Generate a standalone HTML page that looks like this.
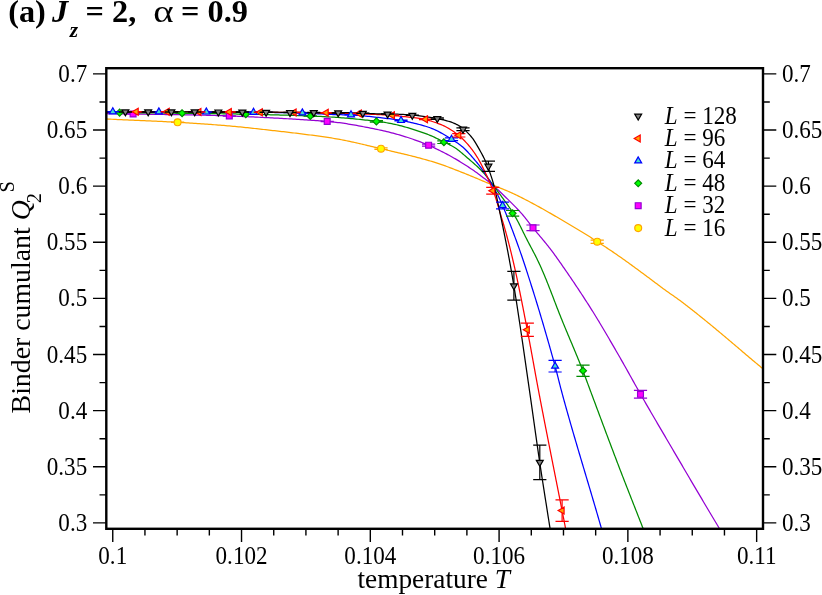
<!DOCTYPE html>
<html><head><meta charset="utf-8"><title>Binder cumulant</title>
<style>html,body{margin:0;padding:0;background:#fff}svg{display:block;will-change:transform}text{font-family:"Liberation Serif",serif;fill:#000}</style></head><body>
<svg width="822" height="595" viewBox="0 0 822 595">
<rect width="822" height="595" fill="#fff"/>
<defs><clipPath id="clip"><rect x="106.3" y="68.2" width="656.7" height="460.6"/></clipPath></defs>
<g clip-path="url(#clip)">
<path d="M100.64 118.63 L102.53 118.74 L104.43 118.84 L106.33 118.95 L108.23 119.05 L110.13 119.15 L112.03 119.25 L113.93 119.34 L115.84 119.43 L117.75 119.53 L119.66 119.61 L121.57 119.7 L123.48 119.79 L125.4 119.88 L127.31 119.96 L129.23 120.04 L131.15 120.13 L133.07 120.21 L134.98 120.29 L136.9 120.37 L138.82 120.45 L140.74 120.53 L142.66 120.62 L144.58 120.7 L146.5 120.78 L148.41 120.86 L150.33 120.95 L152.24 121.03 L154.16 121.12 L156.07 121.2 L157.98 121.29 L159.89 121.38 L161.8 121.47 L163.71 121.57 L165.61 121.66 L167.52 121.76 L169.42 121.86 L171.32 121.96 L173.21 122.06 L175.11 122.17 L177 122.28 L178.89 122.39 L180.78 122.5 L182.66 122.61 L184.55 122.72 L186.43 122.84 L188.32 122.96 L190.2 123.07 L192.08 123.19 L193.96 123.31 L195.84 123.44 L197.72 123.56 L199.59 123.68 L201.46 123.81 L203.34 123.94 L205.21 124.07 L207.07 124.2 L208.94 124.33 L210.81 124.47 L212.67 124.61 L214.53 124.75 L216.38 124.89 L218.24 125.04 L220.09 125.18 L221.94 125.33 L223.79 125.49 L225.63 125.64 L227.48 125.8 L229.31 125.96 L231.15 126.12 L232.98 126.29 L234.81 126.46 L236.64 126.63 L238.46 126.81 L240.29 126.99 L242.1 127.17 L243.92 127.35 L245.73 127.54 L247.54 127.73 L249.35 127.92 L251.16 128.11 L252.97 128.31 L254.77 128.5 L256.57 128.7 L258.38 128.9 L260.18 129.1 L261.98 129.3 L263.77 129.5 L265.57 129.7 L267.37 129.9 L269.17 130.11 L270.96 130.31 L272.76 130.51 L274.56 130.72 L276.35 130.92 L278.15 131.13 L279.94 131.33 L281.74 131.54 L283.53 131.74 L285.32 131.95 L287.12 132.16 L288.91 132.37 L290.7 132.58 L292.49 132.79 L294.27 133 L296.06 133.22 L297.84 133.43 L299.63 133.65 L301.41 133.87 L303.18 134.09 L304.96 134.31 L306.74 134.54 L308.51 134.77 L310.28 135 L312.04 135.23 L313.81 135.47 L315.57 135.7 L317.33 135.94 L319.09 136.19 L320.84 136.43 L322.59 136.68 L324.34 136.93 L326.09 137.19 L327.83 137.45 L329.57 137.71 L331.3 137.98 L333.02 138.25 L334.74 138.54 L336.45 138.83 L338.15 139.13 L339.84 139.43 L341.53 139.75 L343.2 140.07 L344.87 140.4 L346.54 140.74 L348.19 141.08 L349.84 141.43 L351.49 141.78 L353.13 142.14 L354.77 142.51 L356.4 142.88 L358.03 143.25 L359.65 143.62 L361.28 144 L362.9 144.38 L364.51 144.76 L366.13 145.14 L367.75 145.53 L369.36 145.91 L370.97 146.3 L372.59 146.69 L374.2 147.07 L375.82 147.46 L377.43 147.84 L379.05 148.23 L380.66 148.61 L382.28 148.99 L383.9 149.37 L385.52 149.75 L387.14 150.13 L388.76 150.51 L390.38 150.89 L392 151.27 L393.62 151.65 L395.24 152.03 L396.86 152.41 L398.48 152.79 L400.1 153.17 L401.72 153.56 L403.33 153.94 L404.94 154.33 L406.55 154.72 L408.16 155.11 L409.76 155.51 L411.37 155.91 L412.96 156.31 L414.56 156.72 L416.15 157.12 L417.74 157.54 L419.32 157.95 L420.9 158.38 L422.47 158.8 L424.04 159.23 L425.61 159.67 L427.17 160.11 L428.72 160.56 L430.27 161.01 L431.81 161.47 L433.34 161.93 L434.87 162.41 L436.39 162.89 L437.9 163.38 L439.4 163.87 L440.89 164.38 L442.38 164.9 L443.86 165.42 L445.33 165.95 L446.79 166.48 L448.25 167.03 L449.7 167.57 L451.15 168.12 L452.6 168.68 L454.04 169.24 L455.48 169.8 L456.92 170.36 L458.35 170.92 L459.78 171.49 L461.21 172.06 L462.64 172.63 L464.07 173.2 L465.5 173.78 L466.92 174.36 L468.34 174.94 L469.76 175.52 L471.18 176.1 L472.59 176.68 L474.01 177.27 L475.42 177.85 L476.84 178.44 L478.25 179.03 L479.66 179.62 L481.07 180.21 L482.48 180.8 L483.89 181.38 L485.3 181.97 L486.72 182.56 L488.13 183.14 L489.55 183.72 L490.97 184.3 L492.39 184.88 L493.82 185.46 L495.25 186.03 L496.68 186.6 L498.11 187.17 L499.53 187.74 L500.96 188.31 L502.39 188.89 L503.81 189.47 L505.22 190.05 L506.63 190.64 L508.03 191.24 L509.43 191.85 L510.81 192.46 L512.19 193.08 L513.56 193.72 L514.92 194.36 L516.27 195 L517.62 195.66 L518.96 196.32 L520.29 196.98 L521.62 197.66 L522.94 198.33 L524.26 199.01 L525.58 199.69 L526.9 200.38 L528.21 201.07 L529.52 201.76 L530.82 202.45 L532.12 203.15 L533.42 203.85 L534.72 204.55 L536.02 205.26 L537.31 205.96 L538.6 206.67 L539.89 207.38 L541.18 208.09 L542.47 208.81 L543.75 209.52 L545.03 210.24 L546.31 210.97 L547.58 211.69 L548.86 212.42 L550.13 213.15 L551.39 213.88 L552.66 214.62 L553.92 215.35 L555.18 216.09 L556.44 216.83 L557.7 217.57 L558.96 218.31 L560.22 219.06 L561.48 219.8 L562.74 220.54 L563.99 221.28 L565.25 222.02 L566.51 222.76 L567.77 223.51 L569.03 224.25 L570.28 224.99 L571.54 225.74 L572.8 226.48 L574.05 227.22 L575.31 227.97 L576.56 228.71 L577.81 229.46 L579.07 230.21 L580.31 230.96 L581.56 231.71 L582.8 232.47 L584.04 233.23 L585.28 233.99 L586.51 234.76 L587.74 235.53 L588.97 236.31 L590.19 237.08 L591.41 237.86 L592.63 238.65 L593.85 239.43 L595.06 240.22 L596.27 241 L597.49 241.79 L598.7 242.58 L599.91 243.37 L601.12 244.16 L602.33 244.95 L603.54 245.74 L604.74 246.53 L605.95 247.32 L607.16 248.12 L608.36 248.92 L609.56 249.72 L610.76 250.52 L611.95 251.32 L613.14 252.13 L614.33 252.94 L615.52 253.75 L616.71 254.57 L617.89 255.39 L619.06 256.21 L620.24 257.03 L621.41 257.86 L622.59 258.69 L623.76 259.52 L624.92 260.35 L626.09 261.19 L627.25 262.02 L628.42 262.86 L629.58 263.7 L630.74 264.54 L631.9 265.38 L633.06 266.22 L634.21 267.06 L635.37 267.91 L636.52 268.75 L637.67 269.6 L638.83 270.45 L639.98 271.3 L641.13 272.15 L642.27 273 L643.42 273.85 L644.57 274.71 L645.72 275.56 L646.86 276.41 L648.01 277.27 L649.15 278.12 L650.3 278.98 L651.44 279.84 L652.58 280.69 L653.73 281.55 L654.87 282.4 L656.01 283.26 L657.16 284.12 L658.3 284.97 L659.45 285.83 L660.59 286.68 L661.74 287.53 L662.9 288.38 L664.05 289.22 L665.21 290.06 L666.37 290.9 L667.54 291.73 L668.71 292.56 L669.89 293.39 L671.06 294.21 L672.24 295.04 L673.42 295.86 L674.59 296.68 L675.76 297.51 L676.93 298.34 L678.09 299.18 L679.25 300.02 L680.41 300.87 L681.55 301.72 L682.7 302.58 L683.83 303.44 L684.97 304.31 L686.1 305.18 L687.23 306.05 L688.35 306.93 L689.47 307.8 L690.59 308.68 L691.71 309.56 L692.83 310.45 L693.95 311.33 L695.06 312.21 L696.18 313.1 L697.29 313.98 L698.4 314.87 L699.51 315.76 L700.62 316.65 L701.73 317.54 L702.84 318.43 L703.95 319.33 L705.05 320.22 L706.15 321.12 L707.26 322.02 L708.36 322.92 L709.46 323.82 L710.55 324.72 L711.65 325.62 L712.74 326.53 L713.84 327.44 L714.93 328.34 L716.02 329.25 L717.11 330.16 L718.2 331.07 L719.29 331.98 L720.38 332.89 L721.47 333.81 L722.56 334.72 L723.64 335.63 L724.73 336.54 L725.82 337.46 L726.9 338.37 L727.99 339.29 L729.07 340.2 L730.16 341.12 L731.24 342.04 L732.32 342.95 L733.41 343.87 L734.49 344.79 L735.57 345.71 L736.65 346.62 L737.73 347.54 L738.81 348.46 L739.89 349.39 L740.97 350.31 L742.05 351.23 L743.13 352.15 L744.2 353.07 L745.28 353.99 L746.36 354.91 L747.44 355.83 L748.53 356.75 L749.61 357.67 L750.69 358.58 L751.78 359.49 L752.87 360.41 L753.96 361.32 L755.05 362.22 L756.14 363.13 L757.24 364.04 L758.33 364.95 L759.42 365.85 L760.51 366.76 L761.61 367.67 L762.7 368.58 L763.79 369.49 L764.88 370.4 L765.97 371.31 L767.05 372.22 L768.14 373.13 L769.23 374.05 L770.31 374.96 L771.4 375.87" fill="none" stroke="#ffa500" stroke-width="1.25" stroke-linejoin="round"/>
<path d="M100.9 113.42 L102.87 113.45 L104.83 113.49 L106.8 113.52 L108.76 113.56 L110.73 113.59 L112.69 113.63 L114.65 113.66 L116.62 113.7 L118.58 113.74 L120.55 113.77 L122.51 113.81 L124.48 113.84 L126.44 113.88 L128.4 113.91 L130.37 113.95 L132.33 113.99 L134.3 114.02 L136.26 114.06 L138.23 114.09 L140.19 114.13 L142.16 114.16 L144.13 114.19 L146.1 114.22 L148.06 114.26 L150.03 114.29 L152 114.32 L153.97 114.35 L155.94 114.38 L157.91 114.41 L159.88 114.44 L161.85 114.47 L163.82 114.5 L165.79 114.53 L167.76 114.56 L169.73 114.59 L171.7 114.62 L173.67 114.65 L175.64 114.68 L177.61 114.71 L179.58 114.74 L181.54 114.78 L183.51 114.81 L185.48 114.84 L187.44 114.88 L189.41 114.91 L191.37 114.95 L193.33 114.99 L195.3 115.02 L197.26 115.06 L199.22 115.1 L201.17 115.14 L203.13 115.19 L205.09 115.23 L207.04 115.28 L208.99 115.32 L210.95 115.37 L212.9 115.42 L214.84 115.48 L216.79 115.53 L218.73 115.59 L220.68 115.64 L222.62 115.7 L224.55 115.77 L226.49 115.83 L228.42 115.9 L230.35 115.96 L232.28 116.04 L234.21 116.11 L236.13 116.19 L238.06 116.26 L239.97 116.34 L241.89 116.43 L243.81 116.51 L245.72 116.6 L247.63 116.69 L249.54 116.78 L251.45 116.87 L253.35 116.97 L255.26 117.06 L257.16 117.16 L259.06 117.25 L260.97 117.35 L262.87 117.45 L264.77 117.55 L266.67 117.65 L268.57 117.74 L270.48 117.84 L272.38 117.94 L274.28 118.04 L276.18 118.14 L278.08 118.24 L279.98 118.34 L281.88 118.44 L283.77 118.55 L285.67 118.65 L287.57 118.75 L289.46 118.86 L291.35 118.97 L293.25 119.07 L295.14 119.18 L297.02 119.3 L298.91 119.41 L300.79 119.52 L302.68 119.64 L304.56 119.76 L306.43 119.88 L308.31 120.01 L310.18 120.14 L312.05 120.27 L313.92 120.4 L315.78 120.53 L317.65 120.67 L319.5 120.81 L321.36 120.96 L323.21 121.11 L325.06 121.26 L326.9 121.42 L328.74 121.58 L330.57 121.75 L332.39 121.93 L334.2 122.12 L336.01 122.31 L337.8 122.52 L339.58 122.74 L341.35 122.97 L343.1 123.21 L344.85 123.47 L346.59 123.73 L348.31 124.01 L350.03 124.29 L351.74 124.58 L353.45 124.87 L355.15 125.17 L356.84 125.48 L358.53 125.79 L360.21 126.11 L361.89 126.43 L363.57 126.75 L365.25 127.07 L366.92 127.4 L368.59 127.73 L370.26 128.06 L371.93 128.39 L373.59 128.72 L375.26 129.06 L376.92 129.4 L378.57 129.75 L380.22 130.1 L381.86 130.45 L383.5 130.82 L385.13 131.19 L386.75 131.57 L388.36 131.96 L389.96 132.36 L391.55 132.77 L393.13 133.19 L394.71 133.61 L396.28 134.04 L397.84 134.48 L399.39 134.93 L400.94 135.38 L402.47 135.85 L404.01 136.31 L405.53 136.79 L407.05 137.27 L408.56 137.76 L410.06 138.26 L411.55 138.76 L413.04 139.28 L414.52 139.79 L416 140.32 L417.47 140.85 L418.93 141.39 L420.38 141.94 L421.82 142.5 L423.25 143.06 L424.68 143.64 L426.1 144.22 L427.5 144.82 L428.9 145.42 L430.29 146.03 L431.67 146.65 L433.04 147.28 L434.4 147.92 L435.76 148.56 L437.11 149.21 L438.45 149.87 L439.79 150.53 L441.12 151.2 L442.45 151.87 L443.77 152.55 L445.09 153.23 L446.4 153.92 L447.71 154.61 L449.01 155.31 L450.31 156.01 L451.6 156.72 L452.88 157.44 L454.15 158.17 L455.42 158.9 L456.68 159.64 L457.93 160.39 L459.17 161.15 L460.41 161.91 L461.64 162.68 L462.87 163.45 L464.09 164.22 L465.32 165 L466.54 165.78 L467.75 166.57 L468.96 167.36 L470.17 168.15 L471.37 168.95 L472.57 169.75 L473.75 170.57 L474.93 171.39 L476.09 172.23 L477.25 173.07 L478.39 173.93 L479.54 174.78 L480.67 175.65 L481.81 176.51 L482.94 177.38 L484.07 178.25 L485.2 179.12 L486.33 179.99 L487.46 180.86 L488.58 181.74 L489.7 182.62 L490.81 183.51 L491.91 184.41 L492.99 185.33 L494.06 186.26 L495.12 187.19 L496.17 188.14 L497.22 189.1 L498.25 190.07 L499.28 191.04 L500.3 192.02 L501.32 193 L502.34 193.98 L503.36 194.96 L504.37 195.95 L505.38 196.94 L506.39 197.93 L507.39 198.92 L508.4 199.92 L509.4 200.92 L510.41 201.91 L511.41 202.91 L512.41 203.91 L513.41 204.91 L514.4 205.92 L515.4 206.92 L516.39 207.93 L517.37 208.95 L518.35 209.97 L519.31 211.01 L520.27 212.05 L521.21 213.11 L522.14 214.18 L523.06 215.26 L523.96 216.36 L524.86 217.46 L525.75 218.57 L526.63 219.69 L527.5 220.82 L528.38 221.94 L529.25 223.07 L530.13 224.19 L531.01 225.31 L531.89 226.43 L532.78 227.54 L533.67 228.65 L534.57 229.75 L535.48 230.84 L536.38 231.94 L537.29 233.03 L538.2 234.12 L539.11 235.21 L540.03 236.29 L540.94 237.38 L541.85 238.47 L542.76 239.56 L543.67 240.65 L544.57 241.75 L545.48 242.84 L546.37 243.94 L547.27 245.05 L548.16 246.16 L549.04 247.28 L549.92 248.4 L550.79 249.53 L551.65 250.67 L552.51 251.81 L553.36 252.96 L554.2 254.12 L555.04 255.28 L555.87 256.45 L556.71 257.61 L557.53 258.78 L558.36 259.96 L559.19 261.13 L560.01 262.31 L560.84 263.48 L561.66 264.66 L562.48 265.84 L563.3 267.02 L564.12 268.2 L564.94 269.38 L565.76 270.56 L566.57 271.75 L567.39 272.93 L568.2 274.12 L569.01 275.31 L569.82 276.5 L570.63 277.69 L571.44 278.88 L572.25 280.07 L573.05 281.27 L573.86 282.46 L574.66 283.66 L575.46 284.85 L576.27 286.05 L577.07 287.25 L577.86 288.46 L578.66 289.66 L579.46 290.86 L580.25 292.07 L581.05 293.27 L581.84 294.48 L582.63 295.69 L583.42 296.9 L584.21 298.11 L584.99 299.33 L585.78 300.54 L586.56 301.76 L587.35 302.97 L588.13 304.19 L588.91 305.41 L589.69 306.63 L590.46 307.86 L591.24 309.08 L592.01 310.31 L592.78 311.54 L593.55 312.77 L594.31 314.01 L595.08 315.24 L595.84 316.48 L596.6 317.72 L597.36 318.96 L598.11 320.21 L598.87 321.45 L599.62 322.7 L600.37 323.95 L601.12 325.2 L601.87 326.45 L602.61 327.71 L603.36 328.96 L604.1 330.22 L604.84 331.48 L605.58 332.74 L606.32 334 L607.06 335.26 L607.8 336.52 L608.54 337.78 L609.27 339.05 L610.01 340.31 L610.74 341.58 L611.48 342.84 L612.21 344.11 L612.94 345.38 L613.68 346.64 L614.41 347.91 L615.14 349.18 L615.87 350.45 L616.6 351.72 L617.34 352.98 L618.07 354.25 L618.8 355.52 L619.53 356.79 L620.26 358.06 L620.98 359.33 L621.71 360.61 L622.44 361.88 L623.16 363.16 L623.88 364.44 L624.61 365.71 L625.33 366.99 L626.04 368.27 L626.76 369.56 L627.48 370.84 L628.2 372.12 L628.91 373.41 L629.63 374.69 L630.34 375.98 L631.06 377.26 L631.77 378.55 L632.49 379.83 L633.2 381.12 L633.92 382.4 L634.63 383.69 L635.35 384.97 L636.07 386.25 L636.79 387.53 L637.5 388.81 L638.23 390.09 L638.95 391.37 L639.67 392.65 L640.4 393.92 L641.12 395.2 L641.85 396.47 L642.58 397.74 L643.31 399.01 L644.04 400.28 L644.77 401.55 L645.5 402.82 L646.23 404.09 L646.96 405.36 L647.69 406.63 L648.43 407.89 L649.16 409.16 L649.89 410.42 L650.63 411.69 L651.36 412.96 L652.1 414.22 L652.84 415.48 L653.57 416.75 L654.31 418.01 L655.04 419.27 L655.78 420.54 L656.52 421.8 L657.26 423.06 L657.99 424.32 L658.73 425.59 L659.47 426.85 L660.21 428.11 L660.95 429.37 L661.69 430.63 L662.43 431.89 L663.16 433.16 L663.9 434.42 L664.64 435.68 L665.38 436.94 L666.12 438.2 L666.86 439.46 L667.6 440.72 L668.34 441.98 L669.08 443.24 L669.82 444.5 L670.55 445.76 L671.29 447.03 L672.03 448.29 L672.77 449.55 L673.51 450.81 L674.25 452.07 L674.99 453.33 L675.73 454.59 L676.46 455.85 L677.2 457.12 L677.94 458.38 L678.68 459.64 L679.42 460.9 L680.16 462.16 L680.9 463.42 L681.64 464.68 L682.38 465.94 L683.11 467.2 L683.85 468.47 L684.59 469.73 L685.33 470.99 L686.07 472.25 L686.81 473.51 L687.55 474.77 L688.29 476.03 L689.03 477.29 L689.77 478.55 L690.51 479.81 L691.25 481.07 L691.99 482.33 L692.73 483.59 L693.47 484.85 L694.21 486.1 L694.96 487.36 L695.7 488.62 L696.44 489.88 L697.18 491.14 L697.92 492.4 L698.66 493.66 L699.41 494.91 L700.15 496.17 L700.89 497.43 L701.64 498.68 L702.38 499.94 L703.12 501.2 L703.87 502.45 L704.61 503.71 L705.35 504.96 L706.1 506.22 L706.84 507.48 L707.59 508.73 L708.34 509.98 L709.08 511.24 L709.83 512.49 L710.57 513.75 L711.32 515 L712.07 516.25 L712.82 517.5 L713.56 518.76 L714.31 520.01 L715.06 521.26 L715.81 522.51 L716.56 523.76 L717.31 525.01 L718.06 526.26 L718.81 527.51 L719.57 528.75 L720.32 530 L721.07 531.25 L721.83 532.49 L722.58 533.74 L723.34 534.98" fill="none" stroke="#9400d3" stroke-width="1.25" stroke-linejoin="round"/>
<path d="M101.07 112.32 L103.04 112.35 L105.01 112.38 L106.98 112.41 L108.95 112.44 L110.92 112.47 L112.89 112.5 L114.86 112.53 L116.83 112.56 L118.81 112.58 L120.78 112.61 L122.76 112.63 L124.73 112.66 L126.71 112.68 L128.69 112.7 L130.67 112.72 L132.65 112.74 L134.63 112.76 L136.61 112.78 L138.59 112.8 L140.57 112.82 L142.56 112.83 L144.54 112.85 L146.52 112.87 L148.51 112.88 L150.49 112.9 L152.47 112.92 L154.46 112.93 L156.44 112.95 L158.42 112.97 L160.41 112.98 L162.39 113 L164.37 113.02 L166.35 113.04 L168.33 113.06 L170.31 113.07 L172.29 113.09 L174.27 113.12 L176.25 113.14 L178.23 113.16 L180.21 113.18 L182.18 113.21 L184.16 113.23 L186.13 113.25 L188.11 113.28 L190.09 113.3 L192.06 113.33 L194.03 113.35 L196.01 113.38 L197.98 113.41 L199.96 113.43 L201.93 113.46 L203.9 113.49 L205.87 113.51 L207.85 113.54 L209.82 113.57 L211.79 113.6 L213.76 113.63 L215.73 113.66 L217.7 113.69 L219.67 113.72 L221.64 113.75 L223.61 113.78 L225.57 113.82 L227.54 113.85 L229.5 113.88 L231.47 113.92 L233.43 113.96 L235.4 113.99 L237.36 114.03 L239.32 114.07 L241.28 114.11 L243.24 114.15 L245.2 114.19 L247.16 114.23 L249.11 114.27 L251.07 114.32 L253.03 114.36 L254.99 114.4 L256.94 114.44 L258.9 114.49 L260.86 114.53 L262.81 114.58 L264.77 114.62 L266.72 114.67 L268.67 114.71 L270.63 114.76 L272.58 114.81 L274.53 114.86 L276.48 114.91 L278.43 114.96 L280.38 115.01 L282.32 115.06 L284.27 115.12 L286.21 115.18 L288.16 115.23 L290.1 115.29 L292.04 115.35 L293.97 115.42 L295.91 115.48 L297.84 115.55 L299.77 115.61 L301.7 115.69 L303.63 115.76 L305.56 115.83 L307.48 115.91 L309.4 115.99 L311.32 116.07 L313.24 116.15 L315.16 116.23 L317.07 116.31 L318.99 116.4 L320.9 116.49 L322.8 116.59 L324.71 116.68 L326.61 116.78 L328.5 116.89 L330.39 117 L332.28 117.11 L334.16 117.23 L336.04 117.35 L337.9 117.48 L339.77 117.62 L341.63 117.76 L343.48 117.91 L345.33 118.06 L347.17 118.22 L349.01 118.38 L350.84 118.54 L352.67 118.71 L354.5 118.89 L356.32 119.07 L358.14 119.25 L359.95 119.43 L361.76 119.62 L363.57 119.82 L365.37 120.02 L367.17 120.22 L368.97 120.42 L370.76 120.63 L372.55 120.84 L374.34 121.05 L376.12 121.27 L377.89 121.49 L379.66 121.72 L381.43 121.96 L383.18 122.21 L384.91 122.47 L386.64 122.75 L388.34 123.04 L390.03 123.35 L391.71 123.68 L393.36 124.03 L395 124.39 L396.63 124.76 L398.24 125.15 L399.84 125.55 L401.43 125.96 L403 126.39 L404.57 126.82 L406.13 127.26 L407.68 127.71 L409.22 128.17 L410.75 128.64 L412.28 129.11 L413.8 129.59 L415.32 130.07 L416.83 130.56 L418.33 131.06 L419.83 131.56 L421.32 132.07 L422.8 132.59 L424.27 133.12 L425.74 133.65 L427.19 134.2 L428.62 134.77 L430.05 135.34 L431.45 135.94 L432.84 136.55 L434.22 137.17 L435.58 137.81 L436.92 138.47 L438.26 139.13 L439.59 139.8 L440.91 140.47 L442.24 141.15 L443.58 141.81 L444.92 142.47 L446.26 143.12 L447.61 143.78 L448.95 144.43 L450.28 145.1 L451.59 145.79 L452.88 146.51 L454.13 147.26 L455.35 148.04 L456.53 148.85 L457.69 149.7 L458.82 150.57 L459.93 151.46 L461.03 152.36 L462.11 153.28 L463.19 154.2 L464.26 155.13 L465.33 156.05 L466.41 156.98 L467.48 157.91 L468.55 158.84 L469.63 159.76 L470.71 160.68 L471.78 161.61 L472.85 162.54 L473.92 163.47 L474.98 164.41 L476.04 165.35 L477.08 166.31 L478.11 167.28 L479.14 168.25 L480.14 169.25 L481.14 170.25 L482.12 171.27 L483.08 172.31 L484.02 173.37 L484.94 174.45 L485.85 175.54 L486.74 176.65 L487.62 177.77 L488.49 178.9 L489.35 180.04 L490.21 181.18 L491.06 182.33 L491.92 183.47 L492.77 184.62 L493.63 185.76 L494.48 186.91 L495.33 188.05 L496.18 189.21 L497.03 190.36 L497.87 191.51 L498.72 192.67 L499.56 193.83 L500.4 194.99 L501.24 196.15 L502.09 197.3 L502.93 198.46 L503.78 199.61 L504.62 200.76 L505.47 201.92 L506.31 203.07 L507.16 204.23 L507.99 205.4 L508.82 206.57 L509.64 207.75 L510.45 208.94 L511.25 210.14 L512.04 211.35 L512.81 212.58 L513.57 213.82 L514.32 215.07 L515.05 216.34 L515.78 217.61 L516.49 218.9 L517.19 220.2 L517.88 221.51 L518.57 222.82 L519.24 224.14 L519.92 225.47 L520.59 226.8 L521.25 228.14 L521.91 229.48 L522.57 230.82 L523.23 232.16 L523.89 233.49 L524.56 234.83 L525.22 236.16 L525.89 237.5 L526.57 238.82 L527.24 240.14 L527.93 241.46 L528.61 242.78 L529.3 244.09 L529.99 245.4 L530.69 246.7 L531.38 248.01 L532.07 249.32 L532.76 250.62 L533.45 251.94 L534.14 253.25 L534.82 254.57 L535.5 255.89 L536.17 257.22 L536.83 258.56 L537.48 259.9 L538.13 261.25 L538.78 262.61 L539.41 263.98 L540.04 265.35 L540.67 266.72 L541.28 268.11 L541.89 269.49 L542.5 270.89 L543.1 272.29 L543.7 273.69 L544.29 275.1 L544.88 276.51 L545.46 277.93 L546.04 279.35 L546.62 280.77 L547.19 282.2 L547.76 283.63 L548.33 285.06 L548.89 286.49 L549.46 287.93 L550.02 289.37 L550.58 290.81 L551.14 292.25 L551.69 293.7 L552.25 295.14 L552.8 296.59 L553.36 298.03 L553.91 299.48 L554.46 300.93 L555.02 302.37 L555.57 303.82 L556.13 305.26 L556.68 306.7 L557.24 308.15 L557.8 309.59 L558.36 311.03 L558.93 312.46 L559.49 313.9 L560.06 315.33 L560.63 316.76 L561.2 318.19 L561.78 319.61 L562.35 321.03 L562.93 322.45 L563.52 323.87 L564.1 325.29 L564.69 326.7 L565.27 328.12 L565.86 329.53 L566.45 330.94 L567.04 332.35 L567.63 333.76 L568.22 335.17 L568.82 336.57 L569.41 337.98 L570 339.39 L570.59 340.8 L571.19 342.2 L571.78 343.61 L572.37 345.02 L572.96 346.43 L573.55 347.83 L574.15 349.24 L574.73 350.65 L575.32 352.07 L575.91 353.48 L576.5 354.89 L577.08 356.31 L577.67 357.72 L578.25 359.14 L578.83 360.56 L579.4 361.98 L579.98 363.41 L580.55 364.84 L581.12 366.26 L581.69 367.7 L582.26 369.13 L582.82 370.57 L583.38 372.01 L583.93 373.46 L584.48 374.9 L585.03 376.36 L585.58 377.81 L586.12 379.26 L586.67 380.72 L587.21 382.18 L587.75 383.64 L588.29 385.1 L588.83 386.56 L589.37 388.02 L589.91 389.48 L590.45 390.93 L591 392.39 L591.54 393.85 L592.08 395.3 L592.63 396.76 L593.17 398.22 L593.72 399.67 L594.26 401.13 L594.8 402.59 L595.35 404.04 L595.89 405.5 L596.43 406.95 L596.98 408.41 L597.52 409.87 L598.06 411.32 L598.61 412.78 L599.15 414.24 L599.7 415.69 L600.24 417.15 L600.78 418.61 L601.33 420.06 L601.87 421.52 L602.42 422.97 L602.96 424.43 L603.5 425.88 L604.05 427.34 L604.59 428.79 L605.14 430.25 L605.68 431.7 L606.23 433.16 L606.78 434.61 L607.32 436.07 L607.87 437.52 L608.41 438.98 L608.96 440.43 L609.51 441.88 L610.05 443.33 L610.6 444.79 L611.15 446.24 L611.7 447.69 L612.25 449.14 L612.8 450.59 L613.34 452.04 L613.89 453.49 L614.44 454.94 L615 456.39 L615.55 457.84 L616.1 459.29 L616.65 460.74 L617.2 462.19 L617.76 463.63 L618.31 465.08 L618.86 466.53 L619.42 467.97 L619.97 469.42 L620.53 470.86 L621.09 472.3 L621.64 473.75 L622.2 475.19 L622.76 476.63 L623.32 478.07 L623.88 479.51 L624.44 480.95 L625 482.39 L625.56 483.83 L626.12 485.27 L626.68 486.7 L627.25 488.14 L627.81 489.58 L628.37 491.02 L628.94 492.45 L629.5 493.89 L630.06 495.32 L630.63 496.76 L631.19 498.2 L631.76 499.63 L632.32 501.07 L632.89 502.5 L633.45 503.94 L634.02 505.37 L634.58 506.81 L635.15 508.24 L635.71 509.68 L636.28 511.11 L636.84 512.55 L637.4 513.98 L637.97 515.42 L638.53 516.86 L639.09 518.29 L639.66 519.73 L640.22 521.17 L640.78 522.6 L641.35 524.04 L641.91 525.48 L642.47 526.92 L643.04 528.35 L643.6 529.79 L644.16 531.23 L644.73 532.66 L645.29 534.1 L645.85 535.53" fill="none" stroke="#008b00" stroke-width="1.25" stroke-linejoin="round"/>
<path d="M100 111.8 L102 111.8 L104 111.8 L106 111.8 L108 111.8 L110 111.8 L112 111.8 L114 111.8 L115.99 111.81 L117.99 111.81 L119.99 111.81 L121.99 111.81 L123.98 111.82 L125.98 111.82 L127.97 111.83 L129.97 111.83 L131.97 111.83 L133.96 111.84 L135.96 111.84 L137.95 111.85 L139.95 111.85 L141.94 111.86 L143.94 111.86 L145.93 111.87 L147.93 111.87 L149.92 111.88 L151.92 111.88 L153.91 111.89 L155.91 111.89 L157.9 111.9 L159.9 111.9 L161.9 111.9 L163.89 111.91 L165.89 111.91 L167.88 111.92 L169.88 111.92 L171.88 111.92 L173.88 111.92 L175.87 111.93 L177.87 111.93 L179.87 111.93 L181.86 111.94 L183.86 111.94 L185.86 111.94 L187.85 111.95 L189.85 111.95 L191.84 111.96 L193.84 111.96 L195.83 111.97 L197.83 111.97 L199.82 111.98 L201.81 111.99 L203.81 111.99 L205.8 112 L207.79 112.01 L209.78 112.02 L211.77 112.03 L213.76 112.04 L215.76 112.04 L217.75 112.05 L219.74 112.06 L221.73 112.07 L223.72 112.08 L225.7 112.1 L227.69 112.11 L229.68 112.12 L231.67 112.13 L233.66 112.14 L235.64 112.16 L237.63 112.17 L239.61 112.19 L241.6 112.2 L243.58 112.22 L245.57 112.23 L247.55 112.25 L249.53 112.27 L251.51 112.29 L253.5 112.3 L255.48 112.32 L257.46 112.34 L259.44 112.36 L261.42 112.38 L263.41 112.39 L265.39 112.41 L267.37 112.43 L269.35 112.45 L271.33 112.47 L273.31 112.49 L275.29 112.51 L277.27 112.53 L279.25 112.55 L281.22 112.58 L283.19 112.61 L285.16 112.64 L287.13 112.67 L289.1 112.7 L291.06 112.74 L293.01 112.79 L294.97 112.83 L296.92 112.88 L298.86 112.94 L300.8 113 L302.73 113.07 L304.66 113.14 L306.58 113.22 L308.5 113.3 L310.41 113.39 L312.31 113.49 L314.22 113.58 L316.11 113.69 L318.01 113.79 L319.91 113.89 L321.8 114 L323.7 114.1 L325.6 114.2 L327.51 114.29 L329.42 114.38 L331.34 114.46 L333.27 114.53 L335.2 114.6 L337.15 114.65 L339.1 114.7 L341.07 114.73 L343.03 114.77 L344.99 114.81 L346.95 114.85 L348.9 114.9 L350.84 114.96 L352.75 115.05 L354.65 115.15 L356.53 115.27 L358.39 115.41 L360.23 115.57 L362.07 115.73 L363.89 115.91 L365.7 116.1 L367.51 116.29 L369.32 116.48 L371.12 116.68 L372.93 116.87 L374.73 117.07 L376.53 117.27 L378.33 117.47 L380.13 117.67 L381.93 117.87 L383.72 118.08 L385.51 118.29 L387.29 118.51 L389.07 118.73 L390.84 118.96 L392.6 119.2 L394.36 119.44 L396.1 119.7 L397.83 119.97 L399.55 120.25 L401.26 120.54 L402.96 120.84 L404.65 121.15 L406.32 121.48 L407.98 121.82 L409.63 122.17 L411.26 122.54 L412.89 122.91 L414.5 123.3 L416.11 123.69 L417.71 124.09 L419.3 124.5 L420.88 124.92 L422.45 125.35 L424 125.8 L425.54 126.26 L427.06 126.74 L428.56 127.24 L430.03 127.77 L431.48 128.32 L432.91 128.89 L434.31 129.49 L435.68 130.12 L437.03 130.77 L438.37 131.43 L439.68 132.12 L440.97 132.83 L442.25 133.55 L443.52 134.28 L444.77 135.03 L446.02 135.78 L447.26 136.54 L448.5 137.3 L449.73 138.07 L450.96 138.84 L452.19 139.61 L453.42 140.38 L454.64 141.16 L455.85 141.95 L457.06 142.74 L458.24 143.56 L459.41 144.39 L460.55 145.25 L461.66 146.14 L462.75 147.05 L463.81 147.99 L464.84 148.96 L465.84 149.96 L466.82 150.98 L467.79 152.01 L468.75 153.05 L469.69 154.11 L470.63 155.17 L471.56 156.24 L472.49 157.31 L473.41 158.39 L474.33 159.47 L475.25 160.55 L476.16 161.64 L477.07 162.73 L477.97 163.83 L478.85 164.95 L479.73 166.07 L480.59 167.21 L481.44 168.36 L482.28 169.52 L483.11 170.69 L483.92 171.88 L484.72 173.08 L485.51 174.29 L486.29 175.51 L487.07 176.73 L487.84 177.96 L488.61 179.19 L489.37 180.43 L490.12 181.68 L490.88 182.92 L491.62 184.18 L492.36 185.44 L493.1 186.7 L493.83 187.97 L494.55 189.25 L495.27 190.53 L495.98 191.82 L496.68 193.12 L497.38 194.42 L498.06 195.74 L498.74 197.06 L499.4 198.4 L500.05 199.75 L500.68 201.12 L501.31 202.49 L501.92 203.88 L502.52 205.28 L503.12 206.68 L503.7 208.1 L504.29 209.51 L504.87 210.93 L505.44 212.36 L506.02 213.78 L506.59 215.21 L507.16 216.64 L507.73 218.07 L508.29 219.51 L508.85 220.95 L509.41 222.39 L509.97 223.83 L510.53 225.27 L511.08 226.72 L511.64 228.16 L512.19 229.61 L512.73 231.07 L513.28 232.52 L513.83 233.97 L514.37 235.43 L514.91 236.89 L515.45 238.35 L515.99 239.81 L516.52 241.28 L517.06 242.74 L517.59 244.21 L518.12 245.68 L518.64 247.16 L519.17 248.63 L519.69 250.11 L520.21 251.59 L520.72 253.08 L521.24 254.56 L521.75 256.05 L522.25 257.55 L522.76 259.04 L523.26 260.54 L523.76 262.04 L524.26 263.54 L524.76 265.04 L525.26 266.54 L525.75 268.05 L526.24 269.56 L526.73 271.07 L527.23 272.57 L527.72 274.08 L528.2 275.6 L528.69 277.11 L529.18 278.62 L529.66 280.14 L530.15 281.65 L530.63 283.17 L531.11 284.69 L531.59 286.21 L532.07 287.73 L532.55 289.25 L533.03 290.77 L533.51 292.29 L533.98 293.82 L534.46 295.34 L534.93 296.87 L535.4 298.4 L535.88 299.92 L536.35 301.45 L536.82 302.98 L537.28 304.52 L537.75 306.05 L538.22 307.58 L538.68 309.12 L539.15 310.65 L539.61 312.19 L540.07 313.73 L540.53 315.27 L540.99 316.81 L541.45 318.35 L541.91 319.89 L542.37 321.43 L542.83 322.97 L543.28 324.52 L543.74 326.06 L544.19 327.61 L544.64 329.16 L545.09 330.71 L545.54 332.26 L545.99 333.81 L546.44 335.36 L546.89 336.91 L547.34 338.46 L547.78 340.02 L548.23 341.57 L548.67 343.13 L549.12 344.68 L549.56 346.24 L550 347.8 L550.44 349.36 L550.88 350.92 L551.32 352.48 L551.75 354.05 L552.19 355.61 L552.63 357.17 L553.06 358.74 L553.49 360.31 L553.92 361.88 L554.35 363.45 L554.78 365.02 L555.2 366.6 L555.62 368.18 L556.04 369.76 L556.45 371.35 L556.86 372.94 L557.27 374.53 L557.68 376.12 L558.08 377.72 L558.48 379.32 L558.88 380.92 L559.29 382.51 L559.69 384.11 L560.1 385.7 L560.51 387.29 L560.93 388.87 L561.35 390.45 L561.77 392.03 L562.19 393.61 L562.62 395.18 L563.04 396.76 L563.47 398.33 L563.9 399.9 L564.34 401.46 L564.77 403.03 L565.2 404.6 L565.64 406.16 L566.08 407.72 L566.51 409.29 L566.95 410.85 L567.39 412.41 L567.83 413.97 L568.28 415.52 L568.72 417.08 L569.16 418.64 L569.61 420.19 L570.05 421.75 L570.5 423.3 L570.94 424.86 L571.39 426.41 L571.84 427.96 L572.29 429.51 L572.74 431.06 L573.19 432.61 L573.64 434.16 L574.09 435.71 L574.54 437.26 L575 438.8 L575.45 440.35 L575.9 441.9 L576.36 443.44 L576.81 444.99 L577.27 446.53 L577.72 448.08 L578.18 449.62 L578.64 451.16 L579.09 452.71 L579.55 454.25 L580.01 455.79 L580.47 457.33 L580.92 458.88 L581.38 460.42 L581.84 461.96 L582.3 463.5 L582.76 465.04 L583.22 466.58 L583.68 468.12 L584.14 469.66 L584.6 471.2 L585.05 472.75 L585.51 474.29 L585.97 475.83 L586.43 477.37 L586.89 478.91 L587.35 480.45 L587.81 481.99 L588.27 483.53 L588.73 485.07 L589.19 486.61 L589.65 488.15 L590.1 489.7 L590.56 491.24 L591.02 492.78 L591.48 494.32 L591.93 495.87 L592.39 497.41 L592.85 498.95 L593.3 500.5 L593.76 502.04 L594.21 503.59 L594.67 505.13 L595.12 506.68 L595.58 508.22 L596.03 509.77 L596.48 511.32 L596.93 512.87 L597.39 514.41 L597.84 515.96 L598.29 517.51 L598.74 519.06 L599.18 520.62 L599.63 522.17 L600.08 523.72 L600.53 525.27 L600.97 526.83 L601.42 528.38 L601.86 529.94 L602.3 531.5 L602.75 533.05 L603.19 534.61" fill="none" stroke="#0000ff" stroke-width="1.25" stroke-linejoin="round"/>
<path d="M102 111.8 L104 111.8 L106 111.8 L108 111.8 L110 111.8 L112 111.8 L114 111.8 L116 111.8 L118 111.8 L120 111.8 L122 111.8 L124 111.8 L126 111.8 L128 111.8 L130 111.8 L132 111.8 L134 111.8 L136 111.8 L138 111.8 L140 111.8 L142 111.8 L144 111.8 L146 111.8 L148 111.8 L150 111.8 L152 111.8 L154.01 111.79 L156 111.8 L158 111.8 L160 111.8 L162 111.8 L164 111.8 L166 111.8 L167.99 111.81 L169.99 111.81 L171.99 111.81 L173.98 111.82 L175.98 111.82 L177.97 111.83 L179.97 111.83 L181.96 111.84 L183.95 111.85 L185.95 111.85 L187.94 111.86 L189.93 111.87 L191.92 111.88 L193.92 111.88 L195.91 111.89 L197.9 111.9 L199.9 111.9 L201.89 111.91 L203.89 111.91 L205.88 111.92 L207.87 111.93 L209.87 111.93 L211.86 111.94 L213.86 111.94 L215.85 111.95 L217.84 111.96 L219.84 111.96 L221.83 111.97 L223.82 111.98 L225.81 111.99 L227.8 112 L229.79 112.01 L231.78 112.02 L233.77 112.03 L235.76 112.04 L237.75 112.05 L239.74 112.06 L241.72 112.08 L243.71 112.09 L245.7 112.1 L247.68 112.12 L249.67 112.13 L251.66 112.14 L253.64 112.16 L255.63 112.17 L257.62 112.18 L259.61 112.19 L261.59 112.21 L263.58 112.22 L265.57 112.23 L267.56 112.24 L269.55 112.25 L271.54 112.26 L273.53 112.27 L275.52 112.28 L277.51 112.29 L279.5 112.3 L281.49 112.31 L283.48 112.32 L285.47 112.33 L287.45 112.35 L289.43 112.37 L291.42 112.38 L293.4 112.4 L295.38 112.42 L297.36 112.44 L299.33 112.47 L301.31 112.49 L303.28 112.52 L305.26 112.54 L307.23 112.57 L309.2 112.6 L311.17 112.63 L313.13 112.67 L315.1 112.7 L317.07 112.73 L319.03 112.77 L320.99 112.81 L322.96 112.84 L324.92 112.88 L326.88 112.92 L328.83 112.97 L330.79 113.01 L332.75 113.05 L334.7 113.1 L336.65 113.15 L338.61 113.19 L340.56 113.24 L342.51 113.29 L344.45 113.35 L346.4 113.4 L348.34 113.46 L350.28 113.52 L352.22 113.58 L354.16 113.64 L356.09 113.71 L358.03 113.77 L359.96 113.84 L361.89 113.91 L363.82 113.98 L365.74 114.06 L367.67 114.13 L369.59 114.21 L371.52 114.28 L373.43 114.37 L375.35 114.45 L377.26 114.54 L379.16 114.64 L381.06 114.74 L382.96 114.84 L384.84 114.96 L386.72 115.08 L388.59 115.21 L390.45 115.35 L392.3 115.5 L394.14 115.66 L395.98 115.82 L397.81 115.99 L399.63 116.17 L401.46 116.34 L403.27 116.53 L405.09 116.71 L406.9 116.9 L408.71 117.09 L410.51 117.29 L412.31 117.49 L414.1 117.7 L415.87 117.93 L417.63 118.17 L419.37 118.43 L421.09 118.71 L422.78 119.02 L424.43 119.37 L426.06 119.74 L427.66 120.14 L429.23 120.57 L430.78 121.02 L432.31 121.49 L433.82 121.98 L435.32 122.48 L436.8 123 L438.26 123.54 L439.71 124.09 L441.13 124.67 L442.53 125.27 L443.91 125.89 L445.25 126.55 L446.57 127.23 L447.87 127.93 L449.14 128.66 L450.38 129.42 L451.6 130.2 L452.81 130.99 L453.99 131.81 L455.15 132.65 L456.29 133.51 L457.41 134.39 L458.52 135.28 L459.6 136.2 L460.67 137.13 L461.72 138.08 L462.75 139.05 L463.77 140.03 L464.77 141.03 L465.74 142.06 L466.7 143.1 L467.64 144.16 L468.57 145.23 L469.47 146.33 L470.37 147.43 L471.24 148.56 L472.11 149.69 L472.96 150.84 L473.8 152 L474.62 153.18 L475.43 154.37 L476.22 155.58 L477 156.8 L477.76 158.04 L478.5 159.3 L479.22 160.58 L479.93 161.87 L480.63 163.17 L481.31 164.49 L481.98 165.82 L482.65 167.15 L483.31 168.49 L483.96 169.84 L484.62 171.18 L485.26 172.54 L485.9 173.9 L486.54 175.26 L487.17 176.63 L487.79 178.01 L488.4 179.4 L489.01 180.79 L489.61 182.19 L490.2 183.6 L490.78 185.02 L491.36 186.44 L491.93 187.87 L492.5 189.3 L493.06 190.74 L493.61 192.19 L494.15 193.65 L494.69 195.11 L495.2 196.6 L495.71 198.09 L496.2 199.6 L496.67 201.13 L497.14 202.66 L497.59 204.21 L498.04 205.76 L498.49 207.31 L498.94 208.86 L499.39 210.41 L499.84 211.96 L500.3 213.5 L500.76 215.04 L501.23 216.57 L501.69 218.11 L502.16 219.64 L502.62 221.18 L503.08 222.72 L503.54 224.26 L504 225.8 L504.45 227.35 L504.89 228.91 L505.33 230.47 L505.76 232.04 L506.2 233.6 L506.62 235.18 L507.05 236.75 L507.47 238.33 L507.89 239.91 L508.3 241.5 L508.71 243.09 L509.12 244.68 L509.53 246.27 L509.93 247.87 L510.33 249.47 L510.73 251.07 L511.12 252.68 L511.51 254.29 L511.9 255.9 L512.29 257.51 L512.67 259.13 L513.05 260.75 L513.43 262.37 L513.81 263.99 L514.18 265.62 L514.55 267.25 L514.92 268.88 L515.29 270.51 L515.65 272.15 L516.01 273.79 L516.37 275.43 L516.72 277.08 L517.08 278.72 L517.43 280.37 L517.78 282.02 L518.13 283.67 L518.47 285.33 L518.82 286.98 L519.16 288.64 L519.5 290.3 L519.84 291.96 L520.17 293.63 L520.51 295.29 L520.84 296.96 L521.18 298.62 L521.51 300.29 L521.84 301.96 L522.17 303.63 L522.5 305.3 L522.83 306.97 L523.16 308.64 L523.49 310.31 L523.81 311.99 L524.14 313.66 L524.47 315.33 L524.79 317.01 L525.12 318.68 L525.44 320.36 L525.77 322.03 L526.09 323.71 L526.42 325.38 L526.74 327.06 L527.07 328.73 L527.39 330.41 L527.72 332.08 L528.04 333.76 L528.36 335.44 L528.68 337.12 L529 338.8 L529.31 340.49 L529.63 342.17 L529.94 343.86 L530.25 345.55 L530.57 347.23 L530.88 348.92 L531.19 350.61 L531.5 352.3 L531.81 353.99 L532.11 355.69 L532.42 357.38 L532.73 359.07 L533.04 360.76 L533.34 362.46 L533.65 364.15 L533.96 365.84 L534.26 367.54 L534.57 369.23 L534.88 370.92 L535.18 372.62 L535.49 374.31 L535.8 376 L536.11 377.69 L536.42 379.38 L536.74 381.06 L537.05 382.75 L537.36 384.44 L537.68 386.12 L537.99 387.81 L538.31 389.49 L538.63 391.17 L538.95 392.85 L539.27 394.53 L539.59 396.21 L539.91 397.89 L540.23 399.57 L540.55 401.25 L540.88 402.92 L541.2 404.6 L541.52 406.28 L541.85 407.95 L542.17 409.63 L542.49 411.31 L542.82 412.98 L543.15 414.65 L543.47 416.33 L543.8 418 L544.12 419.68 L544.45 421.35 L544.78 423.02 L545.11 424.69 L545.43 426.37 L545.76 428.04 L546.09 429.71 L546.42 431.38 L546.75 433.05 L547.08 434.72 L547.4 436.4 L547.73 438.07 L548.06 439.74 L548.39 441.41 L548.72 443.08 L549.05 444.75 L549.38 446.42 L549.71 448.09 L550.05 449.75 L550.38 451.42 L550.71 453.09 L551.04 454.76 L551.37 456.43 L551.7 458.1 L552.03 459.77 L552.36 461.44 L552.69 463.11 L553.02 464.78 L553.36 466.44 L553.69 468.11 L554.02 469.78 L554.35 471.45 L554.68 473.12 L555.01 474.79 L555.34 476.46 L555.67 478.13 L556 479.8 L556.34 481.46 L556.67 483.13 L557 484.8 L557.33 486.47 L557.66 488.14 L557.99 489.81 L558.32 491.48 L558.65 493.15 L558.98 494.82 L559.31 496.49 L559.64 498.16 L559.97 499.83 L560.29 501.51 L560.62 503.18 L560.95 504.85 L561.28 506.52 L561.61 508.19 L561.94 509.86 L562.26 511.54 L562.59 513.21 L562.92 514.88 L563.24 516.56 L563.57 518.23 L563.9 519.9 L564.22 521.58 L564.55 523.25 L564.88 524.92 L565.2 526.6 L565.53 528.27 L565.85 529.95 L566.18 531.62 L566.51 533.29 L566.83 534.97" fill="none" stroke="#ff0000" stroke-width="1.25" stroke-linejoin="round"/>
<path d="M101.76 111.81 L103.75 111.82 L105.74 111.83 L107.73 111.83 L109.72 111.84 L111.71 111.85 L113.71 111.86 L115.7 111.87 L117.69 111.87 L119.68 111.88 L121.68 111.89 L123.67 111.89 L125.67 111.89 L127.67 111.9 L129.66 111.9 L131.66 111.9 L133.66 111.9 L135.66 111.9 L137.66 111.9 L139.66 111.9 L141.66 111.9 L143.66 111.9 L145.66 111.9 L147.66 111.9 L149.66 111.9 L151.66 111.9 L153.66 111.9 L155.66 111.9 L157.66 111.9 L159.66 111.9 L161.66 111.9 L163.67 111.9 L165.67 111.9 L167.67 111.9 L169.67 111.9 L171.67 111.89 L173.67 111.89 L175.68 111.89 L177.68 111.88 L179.68 111.88 L181.68 111.88 L183.68 111.88 L185.68 111.88 L187.68 111.89 L189.67 111.89 L191.66 111.9 L193.65 111.92 L195.63 111.93 L197.61 111.95 L199.6 111.97 L201.58 111.98 L203.57 111.99 L205.56 112 L207.56 112.01 L209.56 112.01 L211.55 112.01 L213.55 112.01 L215.55 112.01 L217.55 112.01 L219.55 112.01 L221.55 112.02 L223.54 112.02 L225.54 112.03 L227.53 112.04 L229.52 112.04 L231.51 112.05 L233.5 112.06 L235.5 112.07 L237.49 112.08 L239.48 112.09 L241.47 112.1 L243.46 112.1 L245.45 112.11 L247.44 112.12 L249.43 112.13 L251.43 112.14 L253.42 112.15 L255.41 112.16 L257.4 112.16 L259.39 112.17 L261.38 112.18 L263.38 112.19 L265.37 112.2 L267.36 112.2 L269.35 112.21 L271.35 112.22 L273.34 112.22 L275.33 112.23 L277.33 112.24 L279.32 112.25 L281.31 112.26 L283.3 112.27 L285.29 112.28 L287.27 112.29 L289.26 112.31 L291.24 112.32 L293.22 112.34 L295.2 112.36 L297.18 112.39 L299.16 112.41 L301.13 112.43 L303.1 112.46 L305.07 112.49 L307.04 112.52 L309.01 112.56 L310.97 112.6 L312.92 112.64 L314.87 112.69 L316.82 112.75 L318.75 112.81 L320.69 112.87 L322.64 112.93 L324.59 112.98 L326.55 113.01 L328.53 113.03 L330.54 113.02 L332.57 112.99 L334.62 112.94 L336.69 112.88 L338.76 112.8 L340.84 112.73 L342.89 112.67 L344.93 112.63 L346.94 112.62 L348.92 112.64 L350.88 112.68 L352.81 112.75 L354.73 112.83 L356.64 112.93 L358.54 113.02 L360.44 113.12 L362.35 113.22 L364.26 113.3 L366.18 113.39 L368.1 113.47 L370.02 113.54 L371.95 113.61 L373.88 113.68 L375.82 113.75 L377.76 113.81 L379.7 113.86 L381.65 113.92 L383.6 113.97 L385.56 114.01 L387.52 114.05 L389.48 114.08 L391.45 114.11 L393.42 114.15 L395.38 114.19 L397.33 114.23 L399.27 114.29 L401.2 114.36 L403.12 114.45 L405.02 114.55 L406.9 114.66 L408.77 114.8 L410.62 114.94 L412.46 115.1 L414.29 115.28 L416.1 115.46 L417.9 115.66 L419.69 115.87 L421.47 116.1 L423.23 116.33 L424.99 116.58 L426.73 116.83 L428.47 117.1 L430.19 117.38 L431.9 117.66 L433.61 117.96 L435.3 118.26 L436.99 118.58 L438.66 118.9 L440.33 119.24 L441.97 119.59 L443.6 119.96 L445.21 120.36 L446.79 120.78 L448.34 121.23 L449.86 121.7 L451.35 122.21 L452.81 122.75 L454.24 123.33 L455.62 123.94 L456.97 124.59 L458.28 125.29 L459.54 126.03 L460.75 126.81 L461.92 127.65 L463.04 128.52 L464.13 129.43 L465.19 130.38 L466.22 131.34 L467.23 132.33 L468.22 133.34 L469.2 134.37 L470.15 135.41 L471.08 136.49 L471.97 137.59 L472.84 138.73 L473.67 139.89 L474.47 141.09 L475.25 142.32 L476 143.56 L476.74 144.83 L477.47 146.1 L478.19 147.38 L478.91 148.65 L479.63 149.93 L480.35 151.22 L481.06 152.5 L481.77 153.79 L482.47 155.09 L483.15 156.41 L483.82 157.74 L484.48 159.09 L485.11 160.46 L485.72 161.84 L486.32 163.24 L486.9 164.66 L487.47 166.09 L488.03 167.54 L488.58 168.99 L489.12 170.45 L489.65 171.91 L490.18 173.39 L490.69 174.87 L491.2 176.36 L491.69 177.87 L492.17 179.39 L492.64 180.92 L493.09 182.47 L493.53 184.04 L493.95 185.61 L494.36 187.2 L494.76 188.8 L495.15 190.41 L495.53 192.03 L495.9 193.66 L496.27 195.3 L496.63 196.94 L496.98 198.58 L497.33 200.24 L497.68 201.89 L498.02 203.55 L498.36 205.2 L498.71 206.86 L499.05 208.52 L499.39 210.17 L499.74 211.83 L500.08 213.48 L500.43 215.13 L500.78 216.79 L501.12 218.44 L501.47 220.09 L501.82 221.75 L502.16 223.4 L502.5 225.06 L502.85 226.72 L503.19 228.38 L503.52 230.04 L503.86 231.7 L504.2 233.36 L504.54 235.03 L504.87 236.69 L505.2 238.36 L505.54 240.03 L505.87 241.7 L506.2 243.37 L506.53 245.04 L506.86 246.71 L507.18 248.38 L507.51 250.06 L507.83 251.74 L508.15 253.42 L508.47 255.1 L508.78 256.78 L509.1 258.46 L509.41 260.15 L509.72 261.84 L510.03 263.53 L510.34 265.23 L510.64 266.92 L510.94 268.62 L511.24 270.32 L511.54 272.02 L511.84 273.73 L512.13 275.43 L512.42 277.14 L512.71 278.85 L513 280.56 L513.29 282.28 L513.57 283.99 L513.86 285.71 L514.14 287.42 L514.42 289.14 L514.7 290.87 L514.98 292.59 L515.25 294.31 L515.53 296.04 L515.8 297.76 L516.07 299.49 L516.35 301.22 L516.62 302.95 L516.89 304.68 L517.16 306.41 L517.42 308.14 L517.69 309.87 L517.95 311.61 L518.22 313.34 L518.48 315.08 L518.75 316.82 L519.01 318.56 L519.27 320.29 L519.53 322.03 L519.79 323.77 L520.05 325.51 L520.31 327.26 L520.57 329 L520.82 330.74 L521.08 332.48 L521.34 334.23 L521.59 335.97 L521.85 337.72 L522.1 339.46 L522.36 341.21 L522.61 342.95 L522.87 344.7 L523.12 346.45 L523.37 348.19 L523.62 349.94 L523.88 351.69 L524.13 353.44 L524.38 355.18 L524.63 356.93 L524.88 358.68 L525.14 360.43 L525.39 362.18 L525.64 363.93 L525.89 365.67 L526.14 367.42 L526.39 369.17 L526.64 370.92 L526.9 372.67 L527.15 374.42 L527.4 376.17 L527.65 377.91 L527.9 379.66 L528.16 381.41 L528.41 383.16 L528.66 384.9 L528.91 386.65 L529.17 388.4 L529.42 390.14 L529.67 391.89 L529.92 393.64 L530.18 395.39 L530.43 397.14 L530.68 398.89 L530.93 400.64 L531.18 402.39 L531.43 404.14 L531.67 405.89 L531.92 407.64 L532.17 409.4 L532.42 411.15 L532.66 412.9 L532.91 414.65 L533.16 416.41 L533.4 418.16 L533.65 419.92 L533.89 421.67 L534.14 423.42 L534.39 425.18 L534.63 426.93 L534.88 428.68 L535.13 430.44 L535.37 432.19 L535.62 433.94 L535.87 435.7 L536.12 437.45 L536.36 439.2 L536.61 440.95 L536.86 442.7 L537.11 444.45 L537.36 446.2 L537.61 447.95 L537.87 449.7 L538.12 451.44 L538.37 453.19 L538.63 454.93 L538.89 456.68 L539.14 458.42 L539.4 460.16 L539.66 461.91 L539.92 463.65 L540.18 465.38 L540.44 467.12 L540.7 468.86 L540.97 470.6 L541.23 472.33 L541.5 474.07 L541.76 475.8 L542.03 477.53 L542.3 479.27 L542.57 481 L542.84 482.73 L543.1 484.46 L543.37 486.19 L543.64 487.92 L543.92 489.65 L544.19 491.38 L544.46 493.11 L544.73 494.83 L545 496.56 L545.27 498.29 L545.55 500.02 L545.82 501.74 L546.09 503.47 L546.37 505.2 L546.64 506.92 L546.91 508.65 L547.19 510.38 L547.46 512.11 L547.73 513.83 L548 515.56 L548.28 517.29 L548.55 519.02 L548.82 520.74 L549.09 522.47 L549.36 524.2 L549.64 525.93 L549.91 527.66 L550.18 529.39 L550.45 531.11 L550.72 532.84 L550.99 534.57" fill="none" stroke="#000000" stroke-width="1.25" stroke-linejoin="round"/>
<path d="M177.6 122.15V122.45 M171 122.15H184.2 M171 122.45H184.2" stroke="#ffa500" stroke-width="1.2" fill="none"/>
<circle cx="177.6" cy="122.3" r="3.45" fill="#ffff00" stroke="#ffa500" stroke-width="1.2"/>
<path d="M381 147.9V149.5 M374.4 147.9H387.6 M374.4 149.5H387.6" stroke="#ffa500" stroke-width="1.2" fill="none"/>
<circle cx="381" cy="148.7" r="3.45" fill="#ffff00" stroke="#ffa500" stroke-width="1.2"/>
<path d="M597.2 240.1V243.3 M590.6 240.1H603.8 M590.6 243.3H603.8" stroke="#ffa500" stroke-width="1.2" fill="none"/>
<circle cx="597.2" cy="241.7" r="3.45" fill="#ffff00" stroke="#ffa500" stroke-width="1.2"/>
<path d="M133.1 113.85V114.15 M126.5 113.85H139.7 M126.5 114.15H139.7" stroke="#9400d3" stroke-width="1.2" fill="none"/>
<polygon points="130.17,111.07 130.17,116.93 136.03,116.93 136.03,111.07" fill="#ff00ff" stroke="#9400d3" stroke-width="1.2"/>
<path d="M229.3 115.75V116.05 M222.7 115.75H235.9 M222.7 116.05H235.9" stroke="#9400d3" stroke-width="1.2" fill="none"/>
<polygon points="226.37,112.97 226.37,118.83 232.23,118.83 232.23,112.97" fill="#ff00ff" stroke="#9400d3" stroke-width="1.2"/>
<path d="M327.2 121.25V121.55 M320.6 121.25H333.8 M320.6 121.55H333.8" stroke="#9400d3" stroke-width="1.2" fill="none"/>
<polygon points="324.27,118.47 324.27,124.33 330.13,124.33 330.13,118.47" fill="#ff00ff" stroke="#9400d3" stroke-width="1.2"/>
<path d="M428.6 144.2V146.2 M422 144.2H435.2 M422 146.2H435.2" stroke="#9400d3" stroke-width="1.2" fill="none"/>
<polygon points="425.67,142.27 425.67,148.13 431.53,148.13 431.53,142.27" fill="#ff00ff" stroke="#9400d3" stroke-width="1.2"/>
<path d="M533 225V230.6 M526.4 225H539.6 M526.4 230.6H539.6" stroke="#9400d3" stroke-width="1.2" fill="none"/>
<polygon points="530.07,224.87 530.07,230.73 535.93,230.73 535.93,224.87" fill="#ff00ff" stroke="#9400d3" stroke-width="1.2"/>
<path d="M640.5 390.4V398.2 M633.9 390.4H647.1 M633.9 398.2H647.1" stroke="#9400d3" stroke-width="1.2" fill="none"/>
<polygon points="637.57,391.37 637.57,397.23 643.43,397.23 643.43,391.37" fill="#ff00ff" stroke="#9400d3" stroke-width="1.2"/>
<path d="M119.6 112.45V112.75 M113 112.45H126.2 M113 112.75H126.2" stroke="#008b00" stroke-width="1.2" fill="none"/>
<polygon points="119.6,109.15 116.15,112.6 119.6,116.05 123.05,112.6" fill="#00ff00" stroke="#008b00" stroke-width="1.2"/>
<path d="M182.1 113.05V113.35 M175.5 113.05H188.7 M175.5 113.35H188.7" stroke="#008b00" stroke-width="1.2" fill="none"/>
<polygon points="182.1,109.75 178.65,113.2 182.1,116.65 185.55,113.2" fill="#00ff00" stroke="#008b00" stroke-width="1.2"/>
<path d="M245.8 114.05V114.35 M239.2 114.05H252.4 M239.2 114.35H252.4" stroke="#008b00" stroke-width="1.2" fill="none"/>
<polygon points="245.8,110.75 242.35,114.2 245.8,117.65 249.25,114.2" fill="#00ff00" stroke="#008b00" stroke-width="1.2"/>
<path d="M310.3 115.85V116.15 M303.7 115.85H316.9 M303.7 116.15H316.9" stroke="#008b00" stroke-width="1.2" fill="none"/>
<polygon points="310.3,112.55 306.85,116 310.3,119.45 313.75,116" fill="#00ff00" stroke="#008b00" stroke-width="1.2"/>
<path d="M376.4 120.6V122.2 M369.8 120.6H383 M369.8 122.2H383" stroke="#008b00" stroke-width="1.2" fill="none"/>
<polygon points="376.4,117.95 372.95,121.4 376.4,124.85 379.85,121.4" fill="#00ff00" stroke="#008b00" stroke-width="1.2"/>
<path d="M443.9 140.9V143.5 M437.3 140.9H450.5 M437.3 143.5H450.5" stroke="#008b00" stroke-width="1.2" fill="none"/>
<polygon points="443.9,138.75 440.45,142.2 443.9,145.65 447.35,142.2" fill="#00ff00" stroke="#008b00" stroke-width="1.2"/>
<path d="M512.6 210.5V216.1 M506 210.5H519.2 M506 216.1H519.2" stroke="#008b00" stroke-width="1.2" fill="none"/>
<polygon points="512.6,209.85 509.15,213.3 512.6,216.75 516.05,213.3" fill="#00ff00" stroke="#008b00" stroke-width="1.2"/>
<path d="M583 365.1V376.3 M576.4 365.1H589.6 M576.4 376.3H589.6" stroke="#008b00" stroke-width="1.2" fill="none"/>
<polygon points="583,367.25 579.55,370.7 583,374.15 586.45,370.7" fill="#00ff00" stroke="#008b00" stroke-width="1.2"/>
<path d="M112.8 111.65V111.95 M106.2 111.65H119.4 M106.2 111.95H119.4" stroke="#0000ff" stroke-width="1.2" fill="none"/>
<polygon points="112.8,107.82 109.35,113.79 116.25,113.79" fill="#40e0d0" stroke="#0000ff" stroke-width="1.2"/>
<path d="M158.9 111.75V112.05 M152.3 111.75H165.5 M152.3 112.05H165.5" stroke="#0000ff" stroke-width="1.2" fill="none"/>
<polygon points="158.9,107.92 155.45,113.89 162.35,113.89" fill="#40e0d0" stroke="#0000ff" stroke-width="1.2"/>
<path d="M206.3 111.85V112.15 M199.7 111.85H212.9 M199.7 112.15H212.9" stroke="#0000ff" stroke-width="1.2" fill="none"/>
<polygon points="206.3,108.02 202.85,113.99 209.75,113.99" fill="#40e0d0" stroke="#0000ff" stroke-width="1.2"/>
<path d="M253.5 112.15V112.45 M246.9 112.15H260.1 M246.9 112.45H260.1" stroke="#0000ff" stroke-width="1.2" fill="none"/>
<polygon points="253.5,108.32 250.05,114.29 256.95,114.29" fill="#40e0d0" stroke="#0000ff" stroke-width="1.2"/>
<path d="M302.4 112.75V113.05 M295.8 112.75H309 M295.8 113.05H309" stroke="#0000ff" stroke-width="1.2" fill="none"/>
<polygon points="302.4,108.92 298.95,114.89 305.85,114.89" fill="#40e0d0" stroke="#0000ff" stroke-width="1.2"/>
<path d="M351 114.65V114.95 M344.4 114.65H357.6 M344.4 114.95H357.6" stroke="#0000ff" stroke-width="1.2" fill="none"/>
<polygon points="351,110.82 347.55,116.79 354.45,116.79" fill="#40e0d0" stroke="#0000ff" stroke-width="1.2"/>
<path d="M401 120.2V120.8 M394.4 120.2H407.6 M394.4 120.8H407.6" stroke="#0000ff" stroke-width="1.2" fill="none"/>
<polygon points="401,116.52 397.55,122.49 404.45,122.49" fill="#40e0d0" stroke="#0000ff" stroke-width="1.2"/>
<path d="M451.5 137.9V140.7 M444.9 137.9H458.1 M444.9 140.7H458.1" stroke="#0000ff" stroke-width="1.2" fill="none"/>
<polygon points="451.5,135.32 448.05,141.29 454.95,141.29" fill="#40e0d0" stroke="#0000ff" stroke-width="1.2"/>
<path d="M502.6 202.1V208.9 M496 202.1H509.2 M496 208.9H509.2" stroke="#0000ff" stroke-width="1.2" fill="none"/>
<polygon points="502.6,201.52 499.15,207.49 506.05,207.49" fill="#40e0d0" stroke="#0000ff" stroke-width="1.2"/>
<path d="M555.1 360.4V372 M548.5 360.4H561.7 M548.5 372H561.7" stroke="#0000ff" stroke-width="1.2" fill="none"/>
<polygon points="555.1,362.22 551.65,368.19 558.55,368.19" fill="#40e0d0" stroke="#0000ff" stroke-width="1.2"/>
<path d="M136.2 111.65V111.95 M129.6 111.65H142.8 M129.6 111.95H142.8" stroke="#ff0000" stroke-width="1.2" fill="none"/>
<polygon points="132.22,111.8 138.19,115.25 138.19,108.35" fill="#ffa500" stroke="#ff0000" stroke-width="1.2"/>
<path d="M167.2 111.65V111.95 M160.6 111.65H173.8 M160.6 111.95H173.8" stroke="#ff0000" stroke-width="1.2" fill="none"/>
<polygon points="163.22,111.8 169.19,115.25 169.19,108.35" fill="#ffa500" stroke="#ff0000" stroke-width="1.2"/>
<path d="M198.9 111.75V112.05 M192.3 111.75H205.5 M192.3 112.05H205.5" stroke="#ff0000" stroke-width="1.2" fill="none"/>
<polygon points="194.92,111.9 200.89,115.35 200.89,108.45" fill="#ffa500" stroke="#ff0000" stroke-width="1.2"/>
<path d="M229.3 111.85V112.15 M222.7 111.85H235.9 M222.7 112.15H235.9" stroke="#ff0000" stroke-width="1.2" fill="none"/>
<polygon points="225.32,112 231.29,115.45 231.29,108.55" fill="#ffa500" stroke="#ff0000" stroke-width="1.2"/>
<path d="M260.3 112.05V112.35 M253.7 112.05H266.9 M253.7 112.35H266.9" stroke="#ff0000" stroke-width="1.2" fill="none"/>
<polygon points="256.32,112.2 262.29,115.65 262.29,108.75" fill="#ffa500" stroke="#ff0000" stroke-width="1.2"/>
<path d="M294.1 112.25V112.55 M287.5 112.25H300.7 M287.5 112.55H300.7" stroke="#ff0000" stroke-width="1.2" fill="none"/>
<polygon points="290.12,112.4 296.09,115.85 296.09,108.95" fill="#ffa500" stroke="#ff0000" stroke-width="1.2"/>
<path d="M326.2 112.55V112.85 M319.6 112.55H332.8 M319.6 112.85H332.8" stroke="#ff0000" stroke-width="1.2" fill="none"/>
<polygon points="322.22,112.7 328.19,116.15 328.19,109.25" fill="#ffa500" stroke="#ff0000" stroke-width="1.2"/>
<path d="M359.3 113.35V113.65 M352.7 113.35H365.9 M352.7 113.65H365.9" stroke="#ff0000" stroke-width="1.2" fill="none"/>
<polygon points="355.32,113.5 361.29,116.95 361.29,110.05" fill="#ffa500" stroke="#ff0000" stroke-width="1.2"/>
<path d="M392.4 115.05V115.35 M385.8 115.05H399 M385.8 115.35H399" stroke="#ff0000" stroke-width="1.2" fill="none"/>
<polygon points="388.42,115.2 394.39,118.65 394.39,111.75" fill="#ffa500" stroke="#ff0000" stroke-width="1.2"/>
<path d="M425.5 119V119.6 M418.9 119H432.1 M418.9 119.6H432.1" stroke="#ff0000" stroke-width="1.2" fill="none"/>
<polygon points="421.52,119.3 427.49,122.75 427.49,115.85" fill="#ffa500" stroke="#ff0000" stroke-width="1.2"/>
<path d="M458.8 133.6V137 M452.2 133.6H465.4 M452.2 137H465.4" stroke="#ff0000" stroke-width="1.2" fill="none"/>
<polygon points="454.82,135.3 460.79,138.75 460.79,131.85" fill="#ffa500" stroke="#ff0000" stroke-width="1.2"/>
<path d="M492.8 187.4V194.2 M486.2 187.4H499.4 M486.2 194.2H499.4" stroke="#ff0000" stroke-width="1.2" fill="none"/>
<polygon points="488.82,190.8 494.79,194.25 494.79,187.35" fill="#ffa500" stroke="#ff0000" stroke-width="1.2"/>
<path d="M527.3 323.1V336.3 M520.7 323.1H533.9 M520.7 336.3H533.9" stroke="#ff0000" stroke-width="1.2" fill="none"/>
<polygon points="523.32,329.7 529.29,333.15 529.29,326.25" fill="#ffa500" stroke="#ff0000" stroke-width="1.2"/>
<path d="M562.1 499.9V521.3 M555.5 499.9H568.7 M555.5 521.3H568.7" stroke="#ff0000" stroke-width="1.2" fill="none"/>
<polygon points="558.12,510.6 564.09,514.05 564.09,507.15" fill="#ffa500" stroke="#ff0000" stroke-width="1.2"/>
<path d="M125.4 111.75V112.05 M118.8 111.75H132 M118.8 112.05H132" stroke="#000000" stroke-width="1.2" fill="none"/>
<polygon points="121.95,109.91 125.4,115.88 128.85,109.91" fill="#808080" stroke="#000000" stroke-width="1.2"/>
<path d="M148.2 111.75V112.05 M141.6 111.75H154.8 M141.6 112.05H154.8" stroke="#000000" stroke-width="1.2" fill="none"/>
<polygon points="144.75,109.91 148.2,115.88 151.65,109.91" fill="#808080" stroke="#000000" stroke-width="1.2"/>
<path d="M171.4 111.75V112.05 M164.8 111.75H178 M164.8 112.05H178" stroke="#000000" stroke-width="1.2" fill="none"/>
<polygon points="167.95,109.91 171.4,115.88 174.85,109.91" fill="#808080" stroke="#000000" stroke-width="1.2"/>
<path d="M194.7 111.75V112.05 M188.1 111.75H201.3 M188.1 112.05H201.3" stroke="#000000" stroke-width="1.2" fill="none"/>
<polygon points="191.25,109.91 194.7,115.88 198.15,109.91" fill="#808080" stroke="#000000" stroke-width="1.2"/>
<path d="M218.3 111.85V112.15 M211.7 111.85H224.9 M211.7 112.15H224.9" stroke="#000000" stroke-width="1.2" fill="none"/>
<polygon points="214.85,110.01 218.3,115.98 221.75,110.01" fill="#808080" stroke="#000000" stroke-width="1.2"/>
<path d="M242.3 111.95V112.25 M235.7 111.95H248.9 M235.7 112.25H248.9" stroke="#000000" stroke-width="1.2" fill="none"/>
<polygon points="238.85,110.11 242.3,116.08 245.75,110.11" fill="#808080" stroke="#000000" stroke-width="1.2"/>
<path d="M266.1 112.15V112.45 M259.5 112.15H272.7 M259.5 112.45H272.7" stroke="#000000" stroke-width="1.2" fill="none"/>
<polygon points="262.65,110.31 266.1,116.28 269.55,110.31" fill="#808080" stroke="#000000" stroke-width="1.2"/>
<path d="M290 112.35V112.65 M283.4 112.35H296.6 M283.4 112.65H296.6" stroke="#000000" stroke-width="1.2" fill="none"/>
<polygon points="286.55,110.51 290,116.48 293.45,110.51" fill="#808080" stroke="#000000" stroke-width="1.2"/>
<path d="M313.8 112.45V112.75 M307.2 112.45H320.4 M307.2 112.75H320.4" stroke="#000000" stroke-width="1.2" fill="none"/>
<polygon points="310.35,110.61 313.8,116.58 317.25,110.61" fill="#808080" stroke="#000000" stroke-width="1.2"/>
<path d="M338.2 112.75V113.05 M331.6 112.75H344.8 M331.6 113.05H344.8" stroke="#000000" stroke-width="1.2" fill="none"/>
<polygon points="334.75,110.91 338.2,116.88 341.65,110.91" fill="#808080" stroke="#000000" stroke-width="1.2"/>
<path d="M362.8 113.15V113.45 M356.2 113.15H369.4 M356.2 113.45H369.4" stroke="#000000" stroke-width="1.2" fill="none"/>
<polygon points="359.35,111.31 362.8,117.28 366.25,111.31" fill="#808080" stroke="#000000" stroke-width="1.2"/>
<path d="M387.6 113.95V114.25 M381 113.95H394.2 M381 114.25H394.2" stroke="#000000" stroke-width="1.2" fill="none"/>
<polygon points="384.15,112.11 387.6,118.08 391.05,112.11" fill="#808080" stroke="#000000" stroke-width="1.2"/>
<path d="M412.3 115.15V115.45 M405.7 115.15H418.9 M405.7 115.45H418.9" stroke="#000000" stroke-width="1.2" fill="none"/>
<polygon points="408.85,113.31 412.3,119.28 415.75,113.31" fill="#808080" stroke="#000000" stroke-width="1.2"/>
<path d="M437.3 117.8V119.4 M430.7 117.8H443.9 M430.7 119.4H443.9" stroke="#000000" stroke-width="1.2" fill="none"/>
<polygon points="433.85,116.61 437.3,122.58 440.75,116.61" fill="#808080" stroke="#000000" stroke-width="1.2"/>
<path d="M463 127.8V130.6 M456.4 127.8H469.6 M456.4 130.6H469.6" stroke="#000000" stroke-width="1.2" fill="none"/>
<polygon points="459.55,127.21 463,133.18 466.45,127.21" fill="#808080" stroke="#000000" stroke-width="1.2"/>
<path d="M488.4 161.1V171.3 M481.8 161.1H495 M481.8 171.3H495" stroke="#000000" stroke-width="1.2" fill="none"/>
<polygon points="484.95,164.21 488.4,170.18 491.85,164.21" fill="#808080" stroke="#000000" stroke-width="1.2"/>
<path d="M513.9 271.4V300.2 M507.3 271.4H520.5 M507.3 300.2H520.5" stroke="#000000" stroke-width="1.2" fill="none"/>
<polygon points="510.45,283.81 513.9,289.78 517.35,283.81" fill="#808080" stroke="#000000" stroke-width="1.2"/>
<path d="M539.8 445.1V479.7 M533.2 445.1H546.4 M533.2 479.7H546.4" stroke="#000000" stroke-width="1.2" fill="none"/>
<polygon points="536.35,460.41 539.8,466.38 543.25,460.41" fill="#808080" stroke="#000000" stroke-width="1.2"/>
</g>
<path d="M106.3 73.9H93 M763 73.9H776.3 M106.3 101.96H99.5 M763 101.96H769.8 M106.3 130.03H93 M763 130.03H776.3 M106.3 158.09H99.5 M763 158.09H769.8 M106.3 186.15H93 M763 186.15H776.3 M106.3 214.21H99.5 M763 214.21H769.8 M106.3 242.28H93 M763 242.28H776.3 M106.3 270.33H99.5 M763 270.33H769.8 M106.3 298.4H93 M763 298.4H776.3 M106.3 326.46H99.5 M763 326.46H769.8 M106.3 354.52H93 M763 354.52H776.3 M106.3 382.58H99.5 M763 382.58H769.8 M106.3 410.65H93 M763 410.65H776.3 M106.3 438.71H99.5 M763 438.71H769.8 M106.3 466.77H93 M763 466.77H776.3 M106.3 494.83H99.5 M763 494.83H769.8 M106.3 522.9H93 M763 522.9H776.3 M112.75 528.8V542.1 M144.94 528.8V535.6 M177.14 528.8V535.6 M209.34 528.8V535.6 M241.53 528.8V542.1 M273.73 528.8V535.6 M305.92 528.8V535.6 M338.12 528.8V535.6 M370.31 528.8V542.1 M402.5 528.8V535.6 M434.7 528.8V535.6 M466.89 528.8V535.6 M499.09 528.8V542.1 M531.29 528.8V535.6 M563.48 528.8V535.6 M595.67 528.8V535.6 M627.87 528.8V542.1 M660.07 528.8V535.6 M692.26 528.8V535.6 M724.46 528.8V535.6 M756.65 528.8V542.1" stroke="#000" stroke-width="1.4" fill="none"/>
<rect x="106.3" y="68.2" width="656.7" height="460.6" fill="none" stroke="#000" stroke-width="2.4"/>
<g font-size="23.1">
<text transform="translate(87.2 81.9) scale(1 1.1)" text-anchor="end">0.7</text>
<text transform="translate(782 81.9) scale(1 1.1)">0.7</text>
<text transform="translate(87.2 138.03) scale(1 1.1)" text-anchor="end">0.65</text>
<text transform="translate(782 138.03) scale(1 1.1)">0.65</text>
<text transform="translate(87.2 194.15) scale(1 1.1)" text-anchor="end">0.6</text>
<text transform="translate(782 194.15) scale(1 1.1)">0.6</text>
<text transform="translate(87.2 250.28) scale(1 1.1)" text-anchor="end">0.55</text>
<text transform="translate(782 250.28) scale(1 1.1)">0.55</text>
<text transform="translate(87.2 306.4) scale(1 1.1)" text-anchor="end">0.5</text>
<text transform="translate(782 306.4) scale(1 1.1)">0.5</text>
<text transform="translate(87.2 362.52) scale(1 1.1)" text-anchor="end">0.45</text>
<text transform="translate(782 362.52) scale(1 1.1)">0.45</text>
<text transform="translate(87.2 418.65) scale(1 1.1)" text-anchor="end">0.4</text>
<text transform="translate(782 418.65) scale(1 1.1)">0.4</text>
<text transform="translate(87.2 474.77) scale(1 1.1)" text-anchor="end">0.35</text>
<text transform="translate(782 474.77) scale(1 1.1)">0.35</text>
<text transform="translate(87.2 530.9) scale(1 1.1)" text-anchor="end">0.3</text>
<text transform="translate(782 530.9) scale(1 1.1)">0.3</text>
<text transform="translate(112.75 564.3) scale(1 1.1)" text-anchor="middle">0.1</text>
<text transform="translate(241.53 564.3) scale(1 1.1)" text-anchor="middle">0.102</text>
<text transform="translate(370.31 564.3) scale(1 1.1)" text-anchor="middle">0.104</text>
<text transform="translate(499.09 564.3) scale(1 1.1)" text-anchor="middle">0.106</text>
<text transform="translate(627.87 564.3) scale(1 1.1)" text-anchor="middle">0.108</text>
<text transform="translate(756.65 564.3) scale(1 1.1)" text-anchor="middle">0.11</text>
</g>
<text x="357.5" y="588.3" font-size="27.3">temperature <tspan font-style="italic">T</tspan></text>
<g transform="translate(30.1 413.4) rotate(-90)" font-size="27.3"><text transform="scale(1.019 1)" x="0" y="0">Binder cumulant <tspan font-style="italic">Q</tspan></text><text x="210.2" y="11.1" font-size="20.5">2</text><text x="221" y="-16" font-size="20.5">S</text></g>
<g font-size="32.3" font-weight="bold"><text x="8.2" y="21.8">(a)</text><text x="52" y="21.8" font-style="italic">J</text><text x="69.8" y="36.5" font-size="21.5" font-style="italic">z</text><text x="85.5" y="21.8">= 2,</text><text transform="translate(153.3 21.8) scale(1.2 1)" x="0" y="0" font-weight="normal">α</text><text x="181" y="21.8">= 0.9</text></g>
<g font-size="23.1">
<polygon points="634.75,114.11 638.2,120.08 641.65,114.11" fill="#808080" stroke="#000000" stroke-width="1.2"/>
<text transform="translate(664.8 123.6) scale(1 1.1)"><tspan font-style="italic">L</tspan> = 128</text>
<polygon points="634.22,138.5 640.19,141.95 640.19,135.05" fill="#ffa500" stroke="#ff0000" stroke-width="1.2"/>
<text transform="translate(664.8 146) scale(1 1.1)"><tspan font-style="italic">L</tspan> = 96</text>
<polygon points="638.2,156.92 634.75,162.89 641.65,162.89" fill="#40e0d0" stroke="#0000ff" stroke-width="1.2"/>
<text transform="translate(664.8 168.4) scale(1 1.1)"><tspan font-style="italic">L</tspan> = 64</text>
<polygon points="638.2,179.85 634.75,183.3 638.2,186.75 641.65,183.3" fill="#00ff00" stroke="#008b00" stroke-width="1.2"/>
<text transform="translate(664.8 190.8) scale(1 1.1)"><tspan font-style="italic">L</tspan> = 48</text>
<polygon points="635.27,202.77 635.27,208.63 641.13,208.63 641.13,202.77" fill="#ff00ff" stroke="#9400d3" stroke-width="1.2"/>
<text transform="translate(664.8 213.2) scale(1 1.1)"><tspan font-style="italic">L</tspan> = 32</text>
<circle cx="638.2" cy="228.1" r="3.45" fill="#ffff00" stroke="#ffa500" stroke-width="1.2"/>
<text transform="translate(664.8 235.6) scale(1 1.1)"><tspan font-style="italic">L</tspan> = 16</text>
</g>
</svg></body></html>
